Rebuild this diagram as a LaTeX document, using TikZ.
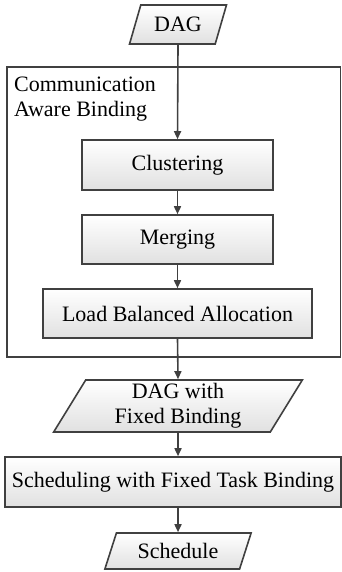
\documentclass[tikz,border=0pt]{standalone}
\usepackage{fontspec}
\setmainfont{Liberation Serif}
\usetikzlibrary{arrows.meta,shapes.geometric}
\definecolor{linegray}{HTML}{404040}
\begin{document}
\begin{tikzpicture}[x=1pt,y=-1pt,
  every node/.style={font=\fontsize{22}{25}\selectfont},
  procbox/.style={draw=linegray, line width=1.6pt, top color=white, bottom color=black!12,
    minimum height=49pt, inner sep=0pt},
  iobox/.style={trapezium, trapezium left angle=64, trapezium right angle=116,
    trapezium stretches=true, draw=linegray, line width=1.6pt,
    top color=white, bottom color=black!12, inner sep=0pt, align=center},
  groupbox/.style={draw=linegray, line width=1.6pt, inner sep=0pt},
  flow/.style={draw=linegray, line width=1.6pt, -{Triangle[length=8pt,width=7pt]}},
]
\useasboundingbox (0,0) rectangle (342,572);

% binding stage frame and its caption
\node[groupbox, minimum width=333.5pt, minimum height=290pt] (cab) at (173.75,212) {};
\node[anchor=north west, inner sep=0pt, align=left] (cabtitle) at (14,77)
  {Communication\\Aware Binding};

% inputs, steps and outputs
\node[iobox, minimum width=97pt, minimum height=39pt] (dag) at (178,24.5) {DAG};
\node[procbox, minimum width=191pt, minimum height=50pt] (clu) at (177.5,165) {Clustering};
\node[procbox, minimum width=191pt] (mer) at (177.5,239.5) {Merging};
\node[procbox, minimum width=269pt] (lba) at (177.5,313.5) {Load Balanced Allocation};
\node[iobox, minimum width=249pt, minimum height=52pt] (dagfb) at (178,406) {DAG with\\Fixed Binding};
\node[procbox, minimum width=336pt, minimum height=50pt] (sch) at (173,482) {Scheduling with Fixed Task Binding};
\node[iobox, minimum width=147pt, minimum height=36pt] (out) at (178,551) {Schedule};

% flow
\draw[flow] (dag.south) -- (clu.north);
\draw[flow] (clu.south) -- (mer.north);
\draw[flow] (mer.south) -- (lba.north);
\draw[flow] (lba.south) -- (dagfb.north);
\draw[flow] (dagfb.south) -- (dagfb.south |- sch.north);
\draw[flow] (out.north |- sch.south) -- (out.north);
\end{tikzpicture}
\end{document}
